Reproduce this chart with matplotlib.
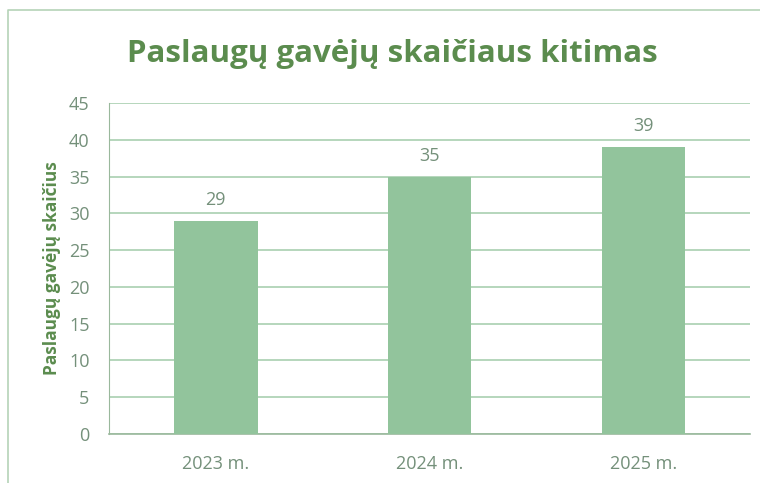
import matplotlib.pyplot as plt
from matplotlib.lines import Line2D

# data
years = ['2023 m.', '2024 m.', '2025 m.']
recipients = [29, 35, 39]
y_ticks = [0, 5, 10, 15, 20, 25, 30, 35, 40, 45]

title_color = '#5b8c4e'
tick_color = '#74907a'
bar_color = '#92c49c'
grid_color = '#a9cfb0'

plt.rcParams['font.family'] = ['Open Sans', 'DejaVu Sans']

fig = plt.figure(figsize=(7.6, 4.83), dpi=100)
ax = fig.add_axes([0.1434, 0.1014, 0.8436, 0.6853])

x = range(len(years))
ax.bar(x, recipients, width=0.39, color=bar_color, zorder=3)
for xi, v in zip(x, recipients):
    ax.text(xi, v + 1.6, str(v), ha='center', va='bottom', fontsize=13, color=tick_color)

ax.set_xlim(-0.5, len(years) - 0.5)
ax.set_ylim(0, 45)
ax.set_yticks(y_ticks)
ax.set_xticks(list(x))
ax.set_xticklabels(years)
ax.tick_params(axis='both', length=0, labelsize=13, colors=tick_color)
ax.tick_params(axis='y', pad=14)
ax.tick_params(axis='x', pad=15)
ax.yaxis.grid(True, color=grid_color, linewidth=1.2, zorder=0)

for s in ['top', 'right']:
    ax.spines[s].set_visible(False)
ax.spines['left'].set_color('#9ab89c')
ax.spines['bottom'].set_color('#9ab89c')
ax.spines['bottom'].set_linewidth(1.2)

ax.set_ylabel('Paslaugų gavėjų skaičius', fontsize=12.5, fontweight='bold',
              color=title_color, labelpad=6)

fig.text(0.516, 0.888, 'Paslaugų gavėjų skaičiaus kitimas', ha='center', va='center',
         fontsize=22.5, fontweight='bold', color=title_color)

# outer chart frame
fig.add_artist(Line2D([0.0105, 0.0105, 1.0], [0.0, 0.979, 0.979],
                      transform=fig.transFigure, color='#b5d3b8', linewidth=1.2))

fig.savefig('out.png', dpi=100)
